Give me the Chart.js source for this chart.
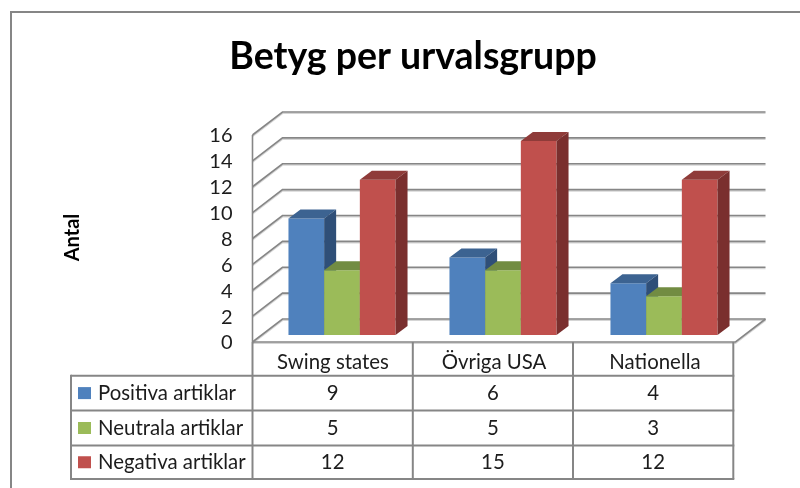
<!DOCTYPE html>
<html><head><meta charset="utf-8">
<style>html,body{margin:0;padding:0;background:#fff}#w{width:800px;height:488px}</style>
<script src="https://cdn.jsdelivr.net/npm/chart.js@4/dist/chart.umd.min.js"></script>
</head><body><div id="w"><canvas id="c"></canvas></div>
<script>
const categories = ["Swing states","Övriga USA","Nationella"];
const seriesNames = ["Positiva artiklar","Neutrala artiklar","Negativa artiklar"];
const positiva = [9,6,4];
const neutrala = [5,5,3];
const negativa = [12,15,12];
const yTicks = [0,2,4,6,8,10,12,14,16];
const axisTitle = "Antal";
const chartTitle = "Betyg per urvalsgrupp";

const frontColors = ["#4F81BD","#9BBB59","#C0504D"];
const topColors = ["#3C6391","#728C42","#8F3B39"];
const sideColors = ["#2F4F78","#5F7537","#7A2F2E"];
const LINE = "#868686", SHADOW = "rgba(150,150,150,0.4)", FONT = "Lato, Carlito, sans-serif", TXT = "#1c1c1c";
const DEPTH_BAR = {x:12,y:-9};
const WALL_FRONT = {x:-9,y:7};
const WALL_BACK = {x:21,y:-16};

function stroke(ctx, pts, w, color){
  ctx.save();ctx.beginPath();ctx.lineWidth=w;ctx.strokeStyle=color;ctx.lineJoin="miter";
  pts.forEach((p,i)=>i?ctx.lineTo(p[0],p[1]):ctx.moveTo(p[0],p[1]));ctx.stroke();ctx.restore();
}
function line3(ctx, pts){
  stroke(ctx, pts.map(p=>[p[0],p[1]+1.3]), 1.6, SHADOW);
  stroke(ctx, pts, 1.6, LINE);
}
function poly(ctx, pts, fill){
  ctx.beginPath();pts.forEach((p,i)=>i?ctx.lineTo(p[0],p[1]):ctx.moveTo(p[0],p[1]));ctx.closePath();
  ctx.fillStyle=fill;ctx.fill();
}
const depth3d = {
  id:"depth3d",
  beforeDatasetsDraw(chart){
    const {ctx,chartArea:a,scales:{y}} = chart;
    const fx=a.left+WALL_FRONT.x, bx=a.left+WALL_BACK.x, rx=a.right+WALL_BACK.x, frx=a.right+WALL_FRONT.x;
    yTicks.forEach(v=>{
      const p=y.getPixelForValue(v);
      line3(ctx,[[fx,p+WALL_FRONT.y],[bx,p+WALL_BACK.y],[rx,p+WALL_BACK.y]]);
    });
    const p0=y.getPixelForValue(0);
    line3(ctx,[[rx,p0+WALL_BACK.y],[frx,p0+WALL_FRONT.y],[fx,p0+WALL_FRONT.y]]);
    stroke(ctx,[[fx,y.getPixelForValue(16)+WALL_FRONT.y],[fx,p0+WALL_FRONT.y]],1.6,LINE);
  },
  // Chart.js paints the first dataset last; here each series must paint over the one before it.
  beforeDatasetDraw(){ return false; },
  afterDatasetsDraw(chart){
    const {ctx}=chart;
    chart.getSortedVisibleDatasetMetas().forEach((meta,i)=>{
      meta.controller.draw();
      meta.data.forEach(b=>{
        const l=b.x-b.width/2, r=b.x+b.width/2, t=b.y, bot=b.base, d=DEPTH_BAR;
        poly(ctx,[[l,t],[l+d.x,t+d.y],[r+d.x,t+d.y],[r,t]],topColors[i]);
        poly(ctx,[[r,t],[r+d.x,t+d.y],[r+d.x,bot+d.y],[r,bot]],sideColors[i]);
      });
    });
  },
  afterDraw(chart){
    const {ctx}=chart;
    stroke(ctx,[[11,488],[11,12],[800,12]],2,"#868686");
    ctx.save();ctx.translate(73,237.5);ctx.rotate(-Math.PI/2);
    ctx.font="bold 20px "+FONT;ctx.fillStyle="#000";ctx.textAlign="center";ctx.textBaseline="middle";
    ctx.fillText(axisTitle,0,0);ctx.restore();
    const xs=[252.5,412.8,573,733.3], rows=[375.7,410.5,445.5,479], top=342;
    const w=2, col="#868686";
    xs.forEach(x=>stroke(ctx,[[x,top],[x,rows[3]]],w,col));
    rows.forEach(r=>stroke(ctx,[[71,r],[xs[3]+1,r]],w,col));
    stroke(ctx,[[71,rows[0]-1],[71,rows[3]+1]],w,col);
    const data=[positiva,neutrala,negativa];
    ctx.save();ctx.textBaseline="middle";ctx.fillStyle=TXT;ctx.font="20.4px "+FONT;
    seriesNames.forEach((n,i)=>{
      const cy=(rows[i]+rows[i+1])/2;
      ctx.fillStyle=frontColors[i];ctx.fillRect(78,cy-6,13,12);
      ctx.fillStyle=TXT;ctx.textAlign="left";ctx.fillText(n,98,cy);
      ctx.textAlign="center";
      data[i].forEach((v,j)=>ctx.fillText(String(v),(xs[j]+xs[j+1])/2,cy));
    });
    ctx.restore();
  }
};
const data = {labels:categories,datasets:[positiva,neutrala,negativa].map((d,i)=>({
  label:seriesNames[i],data:d,backgroundColor:frontColors[i],borderWidth:0,
  categoryPercentage:0.665,barPercentage:1
}))};
new Chart(document.getElementById("c"),{
  type:"bar",data,plugins:[depth3d],
  options:{
    responsive:true,maintainAspectRatio:false,animation:false,
    layout:{padding:{left:81.5,right:55.5,top:0,bottom:0}},
    plugins:{
      legend:{display:false},tooltip:{enabled:false},
      title:{display:true,text:chartTitle,color:"#000",font:{family:FONT,size:37.5,weight:"bold",lineHeight:1.2},padding:{top:34.5,bottom:48.5}}
    },
    scales:{
      x:{grid:{display:false,drawTicks:false},border:{display:false},
         ticks:{color:TXT,font:{family:FONT,size:20.4},padding:15,labelOffset:-9,maxRotation:0,minRotation:0},
         afterFit(s){s.height=153}},
      y:{min:0,max:16,grid:{display:false,drawTicks:false},border:{display:false},
         afterBuildTicks(s){s.ticks=yTicks.map(v=>({value:v}))},
         ticks:{color:TXT,font:{family:FONT,size:20},padding:29,labelOffset:8,autoSkip:false},
         afterFit(s){s.width=180}}
    }
  }
});
</script></body></html>
